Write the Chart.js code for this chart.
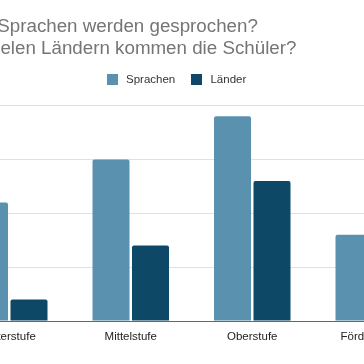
<!DOCTYPE html>
<html>
<head>
<meta charset="utf-8">
<script src="https://cdn.jsdelivr.net/npm/chart.js@4/dist/chart.umd.min.js"></script>
<style>
  html, body { margin: 0; padding: 0; width: 364px; height: 364px; overflow: hidden; background: #fff; }
  #wrap { position: absolute; left: -84px; top: 0; width: 528px; height: 364px; }
</style>
</head>
<body>
<div id="wrap"><canvas id="c" width="528" height="364"></canvas></div>
<script>
const titleLines = ["Wie viele Sprachen werden gesprochen?", "Aus wie vielen Ländern kommen die Schüler?"];
const categories = ["Unterstufe", "Mittelstufe", "Oberstufe", "Förderklasse"];
const seriesNames = ["Sprachen", "Länder"];
const sprachen = [22, 30, 38, 16];
const laender = [4, 14, 26, 9];
const yTicks = [0, 10, 20, 30, 40];
const colors = ['#5a91af', '#0d4866'];

const FONT = 'Liberation Sans, Arial, sans-serif';

function swatch(color) {
  const c = document.createElement('canvas');
  c.width = 11; c.height = 11;
  const g = c.getContext('2d');
  g.fillStyle = color;
  g.fillRect(0, 0, 11, 11);
  return c;
}
const swatches = colors.map(swatch);

const legendSpace = {
  id: 'legendSpace',
  beforeUpdate(chart) {
    const lg = chart.legend;
    if (lg && !lg._patched) {
      const orig = lg.fit.bind(lg);
      lg.fit = function () { orig(); this.height += 10; };
      lg._patched = true;
    }
  }
};

const ctx = document.getElementById('c').getContext('2d');
new Chart(ctx, {
  type: 'bar',
  data: {
    labels: categories,
    datasets: [
      { label: seriesNames[0], data: sprachen, backgroundColor: colors[0], borderRadius: {topLeft: 2, topRight: 2}, borderSkipped: 'bottom' },
      { label: seriesNames[1], data: laender, backgroundColor: colors[1], borderRadius: {topLeft: 2, topRight: 2}, borderSkipped: 'bottom' }
    ]
  },
  plugins: [legendSpace],
  options: {
    responsive: false,
    animation: false,
    devicePixelRatio: 1,
    layout: { padding: { left: 0, right: 9.5, top: 0, bottom: 0 } },
    datasets: { bar: { categoryPercentage: 0.65, barPercentage: 0.937 } },
    plugins: {
      title: {
        display: true,
        text: titleLines,
        align: 'start',
        color: '#757575',
        font: { family: FONT, size: 18.75, weight: 'normal', lineHeight: 22 / 18.75 },
        padding: { top: 16, bottom: 0.5 }
      },
      legend: {
        display: true,
        position: 'top',
        align: 'center',
        labels: {
          usePointStyle: true,
          pointStyleWidth: 16,
          boxHeight: 11,
          padding: 13.5,
          color: '#333333',
          font: { family: FONT, size: 11.5 },
          generateLabels(chart) {
            const items = Chart.defaults.plugins.legend.labels.generateLabels(chart);
            items.forEach((it, i) => { it.pointStyle = swatches[i]; });
            return items;
          }
        }
      },
      tooltip: { enabled: false }
    },
    scales: {
      x: {
        grid: { display: false, drawTicks: false },
        border: { display: true, color: '#666666', width: 1 },
        ticks: { color: '#222222', font: { family: FONT, size: 11.5 }, padding: 9, maxRotation: 0, autoSkip: false },
        afterFit: (s) => { s.height = 43; }
      },
      y: {
        min: yTicks[0],
        max: yTicks[yTicks.length - 1],
        afterBuildTicks: (s) => { s.ticks = yTicks.map(v => ({ value: v })); },
        grid: { color: (c) => c.tick && c.tick.value === 0 ? '#666666' : '#e0e0e0', lineWidth: 1, drawTicks: false },
        border: { display: false },
        ticks: { color: '#444444', font: { family: FONT, size: 11.5 }, padding: 6 },
        afterFit: (s) => { s.width = 32.5; }
      }
    }
  }
});
</script>
</body>
</html>
